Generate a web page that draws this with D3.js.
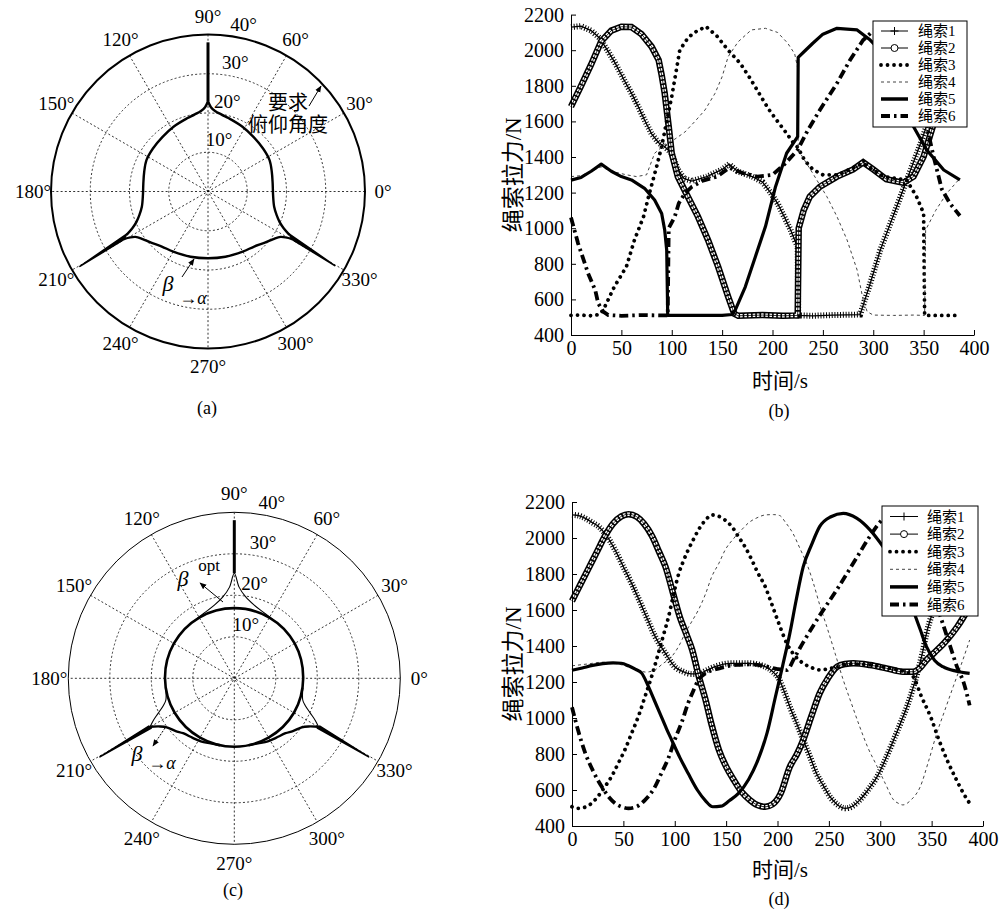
<!DOCTYPE html>
<html>
<head>
<meta charset="utf-8">
<script src="https://d3js.org/d3.v7.min.js"></script>
<style>
body { margin: 0; background: #fff; }
</style>
</head>
<body>
<script>
// ---- polar plots: [angle deg, radius deg] ----
var angleTicks = [0, 30, 60, 90, 120, 150, 180, 210, 240, 270, 300, 330];
var radialTicks = [10, 20, 30, 40];

// (a) required pitch angle boundary
var aArcLeft = [[90,23],[92,21.5],[95,20.6],[100,19.9],[106,19.4],[118,18.7],[130,18.1],[142,17.8],[153,17.6],[163,17.0],[173,16.6],[183,16.6],[193,17.3],[199,18.5],[203,19.8],[206,21.5],[208,23.5]];
var aArcBottom = [[209.5,24.5],[212,21.8],[216,20.6],[222,19.5],[230,18.3],[240,17.7],[255,17.2],[270,17.0],[285,17.2],[300,17.7],[310,18.3],[318,19.5],[324,20.6],[328,21.8],[330.5,24.5]];
var aArcRight = [[332,23.5],[334,21.5],[337,19.8],[341,18.5],[347,17.3],[357,16.6],[367,16.6],[377,17.0],[387,17.6],[398,17.8],[410,18.1],[422,18.7],[434,19.4],[440,19.9],[445,20.6],[448,21.5],[450,23]];
var aSpikeTop = [[90,23],[90,38]];
var aSpike210 = [[207.6,23.4],[210.3,37.8],[209.7,24.6]];
var aSpike330 = [[332.4,23.4],[329.7,37.4],[330.3,24.6]];

// (c) optimised boundary
var cCircle = [[0,16.6],[30,16.8],[60,16.9],[90,16.9],[120,16.9],[150,16.8],[180,16.7],[210,16.6],[240,16.5],[270,16.5],[300,16.5],[330,16.6]];
var cCuspTop = [[55,16.9],[65,17.3],[75,18.3],[82,19.8],[87,22],[90,25.3],[93,22],[98,19.8],[105,18.3],[115,17.3],[125,16.9]];
var cCusp210 = [[188,16.7],[197.6,17.3],[201,18.3],[204.7,20.2],[207.5,22],[209.9,23.4]];
var cCusp330 = [[352,16.7],[342.4,17.3],[339,18.3],[335.3,20.2],[332.5,22],[330.1,23.4]];
var cBottomLeft = [[209.9,23.4],[213,21.3],[216,20.1],[222,19.0],[227,18.1],[235,17.5],[242,17.2],[250,16.7],[258,16.5]];
var cBottomRight = [[330.1,23.4],[327,21.3],[324,20.1],[318,19.0],[313,18.1],[305,17.5],[298,17.2],[290,16.7],[282,16.5]];
var cSpikeTop = [[90,25.3],[90,38.1]];
var cSpike210 = [[209.2,23.6],[210.3,37.5],[210.9,23.3]];
var cSpike330 = [[330.8,23.6],[329.7,37.5],[329.1,23.3]];

// ---- cable tensions: [time s, tension N] ----
var timeTicks = [0, 50, 100, 150, 200, 250, 300, 350, 400];
var forceTicks = [400, 600, 800, 1000, 1200, 1400, 1600, 1800, 2000, 2200];
var cableNames = ["绳索1", "绳索2", "绳索3", "绳索4", "绳索5", "绳索6"];

// (b)
var cableB1 = [[0,2130],[10,2135],[20,2110],[28,2070],[35,2010],[44,1926],[52,1840],[60,1758],[67,1680],[73,1608],[80,1530],[87,1480],[93,1458],[100,1420],[106,1330],[112,1280],[120,1265],[135,1290],[150,1330],[157,1360],[165,1320],[180,1290],[190,1260],[198,1200],[205,1140],[212,1060],[218,990],[223,920],[225,900],[225.5,510],[240,508],[260,512],[287,515],[297,690],[307,877],[317,1027],[327,1177],[337,1327],[347,1477],[357,1640],[367,1800],[377,1950],[386,2080]];
var cableB2 = [[0,1683],[10,1800],[20,1920],[30,2050],[40,2110],[50,2132],[60,2130],[70,2090],[80,2020],[87,1945],[90,1860],[93,1758],[97,1570],[100,1421],[106,1290],[116,1177],[126,1065],[136,934],[146,784],[156,615],[162,520],[166,508],[190,512],[210,508],[225,510],[226,1000],[231,1102],[237,1177],[247,1233],[264,1290],[280,1330],[290,1370],[300,1330],[313,1275],[330,1255],[340,1290],[350,1402],[356,1514],[365,1680],[375,1850],[386,1980]];
var cableB3 = [[0,510],[10,512],[20,508],[28,515],[32,540],[43,671],[55,784],[63,934],[72,1065],[78,1200],[85,1346],[90,1460],[95,1600],[100,1740],[104,1870],[108,2001],[115,2060],[121,2095],[134,2133],[145,2078],[156,2000],[168,1926],[178,1840],[188,1745],[196,1670],[204,1608],[214,1533],[221,1477],[225,1455],[232,1380],[240,1330],[250,1300],[265,1300],[290,1365],[310,1290],[333,1271],[343,1177],[350,1084],[351,510],[386,510]];
var cableB4 = [[0,1290],[10,1295],[20,1320],[30,1345],[40,1320],[55,1300],[65,1290],[75,1300],[83,1421],[93,1470],[103,1500],[113,1540],[123,1600],[133,1664],[143,1758],[150,1851],[156,1964],[166,2048],[179,2114],[193,2123],[205,2100],[215,2040],[222,1980],[225,1900],[225.5,1440],[232,1380],[240,1308],[254,1177],[264,1065],[274,934],[284,765],[290,596],[294,531],[300,512],[320,510],[340,512],[351,510],[352,990],[362,1100],[373,1196],[386,1280]];
var cableB5 = [[0,1270],[10,1285],[20,1320],[30,1360],[40,1320],[50,1290],[60,1271],[73,1224],[83,1158],[90,1083],[93,990],[95,877],[96,510],[120,510],[150,510],[160,515],[163,540],[173,671],[183,840],[193,1009],[203,1233],[214,1421],[225,1514],[225.5,1960],[231,1990],[240,2039],[250,2090],[264,2123],[284,2114],[297,2057],[310,1980],[325,1800],[340,1570],[353,1440],[370,1327],[386,1271]];
var cableB6 = [[0,1060],[7,915],[17,746],[24,653],[27,578],[32,531],[37,512],[50,508],[70,512],[90,510],[96,510],[97,1000],[103,1065],[107,1140],[113,1196],[120,1233],[130,1265],[145,1290],[157,1340],[170,1310],[185,1290],[200,1300],[212,1360],[225,1440],[235,1550],[247,1664],[264,1814],[277,1945],[290,2057],[300,2110],[312,2130],[322,2110],[335,2000],[345,1800],[352,1600],[360,1400],[368,1220],[376,1140],[386,1070]];

// (d)
var cableD1 = [[0,2128],[6,2125],[13,2109],[20,2085],[26,2063],[32,2026],[42,1933],[50,1840],[58,1748],[65,1660],[71,1581],[81,1452],[91,1359],[100,1285],[108,1258],[116,1245],[123,1245],[131,1265],[139,1285],[155,1304],[172,1304],[188,1285],[195,1260],[202,1211],[207,1140],[212,1063],[219,965],[225,878],[232,780],[238,692],[245,620],[251,563],[258,520],[266,498],[273,510],[280,544],[288,600],[297,674],[305,770],[313,878],[320,975],[326,1063],[331,1150],[336,1248],[341,1360],[345,1470],[355,1650],[365,1820],[375,1970],[386,2080]];
var cableD2 = [[0,1650],[8,1740],[16,1830],[24,1920],[32,2010],[40,2080],[48,2120],[55,2132],[63,2118],[70,2080],[78,2010],[85,1920],[91,1840],[98,1700],[105,1560],[111,1470],[117,1378],[123,1240],[130,1100],[136,960],[143,822],[150,730],[157,660],[165,590],[173,545],[181,515],[188,507],[195,520],[203,580],[212,729],[219,800],[225,878],[233,1010],[241,1137],[249,1220],[258,1285],[266,1300],[274,1304],[290,1294],[306,1276],[322,1257],[332,1257],[339,1280],[345,1322],[353,1365],[362,1415],[375,1507],[387,1618]];
var cableD3 = [[0,507],[6,498],[13,505],[19,526],[26,570],[32,618],[39,680],[45,748],[52,830],[58,915],[65,1015],[71,1118],[78,1240],[84,1359],[89,1460],[94,1563],[99,1690],[104,1804],[109,1880],[113,1933],[118,1990],[123,2044],[130,2100],[136,2128],[143,2120],[149,2100],[156,2060],[162,2007],[169,1945],[175,1878],[181,1805],[188,1730],[193,1655],[201,1530],[209,1415],[217,1345],[225,1304],[233,1280],[241,1267],[255,1280],[270,1300],[290,1295],[310,1275],[325,1255],[332,1230],[340,1120],[349,1007],[357,880],[365,767],[373,670],[381,581],[387,526]];
var cableD4 = [[0,1290],[15,1300],[30,1310],[45,1300],[60,1275],[72,1255],[80,1265],[88,1300],[97,1341],[104,1400],[110,1470],[117,1540],[123,1600],[130,1690],[136,1785],[143,1860],[149,1933],[157,1995],[165,2045],[172,2085],[180,2112],[188,2128],[196,2130],[202,2125],[208,2085],[215,2026],[222,1940],[229,1850],[235,1748],[241,1630],[248,1507],[256,1360],[264,1211],[272,1080],[280,952],[288,835],[297,730],[305,635],[313,545],[318,525],[322,517],[330,545],[339,619],[347,760],[355,915],[363,1045],[371,1174],[379,1300],[387,1433]];
var cableD5 = [[0,1265],[10,1278],[20,1292],[30,1302],[40,1306],[48,1304],[55,1290],[62,1270],[68,1248],[74,1180],[80,1100],[86,1020],[92,940],[97,878],[105,780],[113,693],[122,600],[130,540],[137,507],[145,510],[153,540],[162,581],[172,660],[181,767],[190,920],[198,1118],[205,1290],[212,1470],[218,1650],[225,1840],[233,1960],[241,2063],[252,2118],[264,2137],[277,2110],[290,2045],[303,1950],[316,1841],[324,1730],[332,1600],[339,1490],[345,1396],[353,1320],[361,1285],[374,1260],[387,1248]];
var cableD6 = [[0,1060],[6,930],[13,804],[21,700],[29,618],[36,560],[42,526],[49,505],[55,498],[63,508],[71,544],[80,610],[87,693],[94,780],[100,878],[107,980],[113,1082],[118,1150],[123,1211],[130,1248],[145,1278],[160,1295],[175,1298],[190,1285],[200,1272],[209,1266],[217,1340],[225,1420],[240,1560],[258,1715],[277,1890],[290,2010],[300,2090],[310,2128],[320,2115],[330,2040],[340,1900],[350,1720],[360,1540],[368,1400],[375,1280],[381,1200],[387,1070]];

var FONT = '"Times New Roman", "Liberation Serif", "DejaVu Serif", "Noto Sans CJK SC", serif';

var svg = d3.select('body').append('svg').attr('width', 1000).attr('height', 913)
  .style('font-family', FONT);
svg.append('rect').attr('width', 1000).attr('height', 913).attr('fill', '#fff');

var defs = svg.append('defs');
defs.append('marker').attr('id', 'arr').attr('viewBox', '0 0 10 10').attr('refX', 9).attr('refY', 5)
  .attr('markerWidth', 7).attr('markerHeight', 7).attr('orient', 'auto')
  .append('path').attr('d', 'M0,1 L10,5 L0,9 Z').attr('fill', '#000');

function label(g, x, y, txt, size, italic, anchor) {
  return g.append('text').attr('x', x).attr('y', y)
    .attr('text-anchor', anchor || 'middle').attr('dominant-baseline', 'central')
    .style('font-family', FONT).style('font-size', size + 'px')
    .style('font-style', italic ? 'italic' : 'normal').attr('fill', '#000').text(txt);
}

function polarPanel(cx, cy, R, outerW) {
  var g = svg.append('g');
  var rs = d3.scaleLinear().domain([0, 40]).range([0, R]);
  var pt = function (d) {
    var a = d[0] * Math.PI / 180;
    return [cx + rs(d[1]) * Math.cos(a), cy - rs(d[1]) * Math.sin(a)];
  };
  g.selectAll('.ring').data(radialTicks.slice(0, 3)).enter().append('circle')
    .attr('cx', cx).attr('cy', cy).attr('r', function (d) { return rs(d); })
    .attr('fill', 'none').attr('stroke', '#000').attr('stroke-width', 0.8).attr('stroke-dasharray', '2,2.2');
  g.selectAll('.spoke').data(angleTicks.filter(function (a) { return a < 180; })).enter().append('line')
    .attr('x1', function (a) { return pt([a, 40])[0]; }).attr('y1', function (a) { return pt([a, 40])[1]; })
    .attr('x2', function (a) { return pt([a + 180, 40])[0]; }).attr('y2', function (a) { return pt([a + 180, 40])[1]; })
    .attr('stroke', '#000').attr('stroke-width', 0.8).attr('stroke-dasharray', '2,2.2');
  g.append('circle').attr('cx', cx).attr('cy', cy).attr('r', rs(40))
    .attr('fill', 'none').attr('stroke', '#000').attr('stroke-width', outerW);
  angleTicks.forEach(function (a) {
    var p = pt([a, 44.6]);
    label(g, p[0], p[1], a + '°', 19);
  });
  var la = 78 * Math.PI / 180;
  radialTicks.forEach(function (r) {
    label(g, cx + (rs(r) + 14) * Math.cos(la), cy - (rs(r) + 14) * Math.sin(la), r + '°', 19);
  });
  var smooth = d3.line().x(function (d) { return pt(d)[0]; }).y(function (d) { return pt(d)[1]; }).curve(d3.curveCatmullRom);
  var straight = d3.line().x(function (d) { return pt(d)[0]; }).y(function (d) { return pt(d)[1]; });
  return { g: g, smooth: smooth, straight: straight, pt: pt };
}

function curve(p, data, w, closed) {
  var gen = closed ? p.smooth.curve(d3.curveCatmullRomClosed) : p.smooth.curve(d3.curveCatmullRom);
  p.g.append('path').attr('d', gen(data)).attr('fill', 'none').attr('stroke', '#000').attr('stroke-width', w).attr('stroke-linejoin', 'round');
}
function spike(p, data, w) {
  p.g.append('path').attr('d', p.straight(data) + (data.length > 2 ? 'Z' : ''))
    .attr('fill', '#000').attr('stroke', '#000').attr('stroke-width', w).attr('stroke-linejoin', 'round');
}
function arrow(g, x1, y1, x2, y2, dash) {
  g.append('line').attr('x1', x1).attr('y1', y1).attr('x2', x2).attr('y2', y2)
    .attr('stroke', '#000').attr('stroke-width', 1).attr('stroke-dasharray', dash || null).attr('marker-end', 'url(#arr)');
}

// ---- panel (a) ----
var pa = polarPanel(208, 191.5, 157, 2);
curve(pa, aArcLeft, 2.4);
curve(pa, aArcBottom, 2.4);
curve(pa, aArcRight, 2.4);
spike(pa, aSpikeTop, 3);
spike(pa, aSpike210, 1.6);
spike(pa, aSpike330, 1.6);
label(pa.g, 288, 103, '要求', 20);
label(pa.g, 288, 125, '俯仰角度', 20);
arrow(pa.g, 309, 106, 321, 86);
label(pa.g, 168, 283, 'β', 22, true);
label(pa.g, 193, 298, '→α', 18, true);
arrow(pa.g, 182, 277, 194, 259);
label(svg, 207, 408, '(a)', 18);

// ---- panel (c) ----
var pc = polarPanel(234.3, 678.3, 166, 1);
curve(pc, cCircle, 2.6, true);
curve(pc, cCuspTop, 1.1);
curve(pc, cCusp210, 1.1);
curve(pc, cCusp330, 1.1);
curve(pc, cBottomLeft, 2.4);
curve(pc, cBottomRight, 2.4);
spike(pc, cSpikeTop, 3);
spike(pc, cSpike210, 1.6);
spike(pc, cSpike330, 1.6);
label(pc.g, 183, 578, 'β', 22, true);
label(pc.g, 209, 565, 'opt', 17);
arrow(pc.g, 223, 602, 200, 583);
label(pc.g, 137, 753, 'β', 22, true);
label(pc.g, 162, 763, '→α', 18, true);
arrow(pc.g, 165, 728, 153, 746, '2,1.5');
label(svg, 233, 890, '(c)', 18);

// ---- line panels ----
function drawStyled(g, d, style) {
  if (style === 'plus') {
    g.append('path').attr('d', d).attr('fill', 'none').attr('stroke', '#000').attr('stroke-width', 6).attr('stroke-dasharray', '1,1.8');
    g.append('path').attr('d', d).attr('fill', 'none').attr('stroke', '#000').attr('stroke-width', 1.3);
  } else if (style === 'circle') {
    g.append('path').attr('d', d).attr('fill', 'none').attr('stroke', '#000').attr('stroke-width', 6.5);
    g.append('path').attr('d', d).attr('fill', 'none').attr('stroke', '#fff').attr('stroke-width', 3.4).attr('stroke-dasharray', '2.6,1.6');
    g.append('path').attr('d', d).attr('fill', 'none').attr('stroke', '#000').attr('stroke-width', 0.8);
  } else if (style === 'dot') {
    g.append('path').attr('d', d).attr('fill', 'none').attr('stroke', '#000').attr('stroke-width', 3.8).attr('stroke-linecap', 'round').attr('stroke-dasharray', '0.01,6.5');
  } else if (style === 'dash') {
    g.append('path').attr('d', d).attr('fill', 'none').attr('stroke', '#444').attr('stroke-width', 1).attr('stroke-dasharray', '3,3');
  } else if (style === 'solid') {
    g.append('path').attr('d', d).attr('fill', 'none').attr('stroke', '#000').attr('stroke-width', 3.2).attr('stroke-linejoin', 'round');
  } else {
    g.append('path').attr('d', d).attr('fill', 'none').attr('stroke', '#000').attr('stroke-width', 3.8).attr('stroke-dasharray', '9,4,2.5,4');
  }
}
var styles = ['plus', 'circle', 'dot', 'dash', 'solid', 'dashdot'];

function linePanel(cfg) {
  var g = svg.append('g');
  var x = d3.scaleLinear().domain([0, 400]).range([cfg.x0, cfg.x1]);
  var y = d3.scaleLinear().domain([400, 2200]).range([cfg.y0, cfg.y1]);
  var line = d3.line().x(function (d) { return x(d[0]); }).y(function (d) { return y(d[1]); }).curve(cfg.curve);

  cfg.series.forEach(function (s, i) { drawStyled(g, line(s), styles[i]); });

  var ax = g.append('g').attr('transform', 'translate(0,' + cfg.y0 + ')')
    .call(d3.axisBottom(x).tickValues(timeTicks).tickFormat(d3.format('d')).tickSizeInner(-5).tickSizeOuter(0).tickPadding(6));
  var ay = g.append('g').attr('transform', 'translate(' + cfg.x0 + ',0)')
    .call(d3.axisLeft(y).tickValues(forceTicks).tickFormat(d3.format('d')).tickSizeInner(-5).tickSizeOuter(0).tickPadding(7));
  [ax, ay].forEach(function (a) {
    a.attr('font-family', null).attr('font-size', null);
    a.selectAll('text').style('font-family', FONT).style('font-size', '20px').attr('fill', '#000');
    a.selectAll('line, path').attr('stroke', '#000').attr('stroke-width', 1);
  });

  g.append('text').attr('transform', 'translate(' + cfg.ylabX + ',' + ((cfg.y0 + cfg.y1) / 2) + ') rotate(-90)')
    .attr('text-anchor', 'middle').attr('dominant-baseline', 'central')
    .style('font-family', FONT).style('font-size', '23px').attr('fill', '#000').text('绳索拉力/N');
  label(g, 780, cfg.y0 + cfg.xlabDy, '时间/s', 21);
  label(g, 779, cfg.y0 + cfg.tagDy, cfg.tag, 18);

  // legend
  var L = cfg.legend;
  var lg = g.append('g').attr('transform', 'translate(' + L.x + ',' + L.y + ')');
  lg.append('rect').attr('width', L.w).attr('height', L.h).attr('fill', '#fff').attr('stroke', '#000').attr('stroke-width', 1);
  cableNames.forEach(function (name, i) {
    var yy = L.top + i * L.step;
    var st = styles[i];
    var sample = 'M' + L.sx0 + ',' + yy + 'L' + L.sx1 + ',' + yy;
    if (st === 'plus') {
      lg.append('path').attr('d', sample).attr('stroke', '#000').attr('stroke-width', 1);
      var mx = (L.sx0 + L.sx1) / 2;
      lg.append('path').attr('d', 'M' + (mx - 4) + ',' + yy + 'L' + (mx + 4) + ',' + yy + 'M' + mx + ',' + (yy - 4) + 'L' + mx + ',' + (yy + 4)).attr('stroke', '#000').attr('stroke-width', 1);
    } else if (st === 'circle') {
      lg.append('path').attr('d', sample).attr('stroke', '#000').attr('stroke-width', 1);
      lg.append('circle').attr('cx', (L.sx0 + L.sx1) / 2).attr('cy', yy).attr('r', 3.5).attr('fill', '#fff').attr('stroke', '#000').attr('stroke-width', 1);
    } else if (st === 'dot') {
      lg.append('path').attr('d', sample).attr('stroke', '#000').attr('stroke-width', 3.8).attr('stroke-linecap', 'round').attr('stroke-dasharray', '0.01,6.5');
    } else if (st === 'dash') {
      lg.append('path').attr('d', sample).attr('stroke', '#444').attr('stroke-width', 1).attr('stroke-dasharray', '3,3');
    } else if (st === 'solid') {
      lg.append('path').attr('d', sample).attr('stroke', '#000').attr('stroke-width', 3.5);
    } else {
      lg.append('path').attr('d', sample).attr('stroke', '#000').attr('stroke-width', 3.8).attr('stroke-dasharray', '9,4,2.5,4');
    }
    label(lg, L.tx, yy, name, 15, false, 'start');
  });
}

linePanel({
  x0: 571, x1: 974, y0: 335, y1: 14.6, ylabX: 513, xlabDy: 46, tagDy: 76, curve: d3.curveLinear, tag: '(b)',
  series: [cableB1, cableB2, cableB3, cableB4, cableB5, cableB6],
  legend: { x: 873, y: 21, w: 94, h: 106, top: 10, step: 17, sx0: 8, sx1: 35, tx: 45 }
});
linePanel({
  x0: 572, x1: 983, y0: 826, y1: 502, ylabX: 513, xlabDy: 44, tagDy: 73, curve: d3.curveMonotoneX, tag: '(d)',
  series: [cableD1, cableD2, cableD3, cableD4, cableD5, cableD6],
  legend: { x: 882, y: 506, w: 96, h: 110, top: 10.5, step: 17.6, sx0: 8, sx1: 36, tx: 45 }
});
</script>
</body>
</html>
